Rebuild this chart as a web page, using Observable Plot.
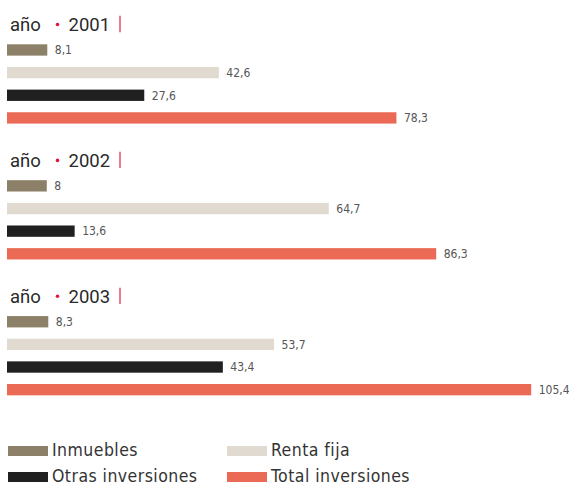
<!DOCTYPE html>
<html><head><meta charset="utf-8">
<script src="https://cdn.jsdelivr.net/npm/d3@7"></script>
<script src="https://cdn.jsdelivr.net/npm/@observablehq/plot@0.6"></script>
<style>
body{margin:0;background:#fff;}
#legend{display:grid;grid-template-columns:219px 220px;row-gap:8px;margin:30px 0 0 8px;font-family:"DejaVu Sans Condensed","Roboto Condensed","Roboto",sans-serif;font-size:17.5px;line-height:1;letter-spacing:0.45px;color:#333;font-weight:300;}
#legend .item{display:flex;align-items:center;height:18px;}
#legend .sw{width:40px;height:10px;margin-right:4px;display:inline-block;}
</style>
</head><body>
<div id="chart"></div>
<div id="legend"></div>
<script>
const years = ["2001", "2002", "2003"];
const categories = ["Inmuebles", "Renta fija", "Otras inversiones", "Total inversiones"];
const inmuebles = [8.1, 8, 8.3];
const rentaFija = [42.6, 64.7, 53.7];
const otras = [27.6, 13.6, 43.4];
const total = [78.3, 86.3, 105.4];
const colors = ["#8c8068", "#e1dad0", "#202020", "#eb6a55"];

const series = [inmuebles, rentaFija, otras, total];
const rows = [];
years.forEach((y, i) => {
  rows.push(`${y}|title`);
  categories.forEach(c => rows.push(`${y}|${c}`));
  if (i < years.length - 1) rows.push(`${y}|gap`);
});
const data = [];
years.forEach((y, i) => categories.forEach((c, j) => data.push({year: y, category: c, value: series[j][i], row: `${y}|${c}`})));
const titles = years.map(y => ({year: y, row: `${y}|title`}));
const fmt = v => String(v).replace(".", ",");
const labelFont = `"DejaVu Sans Condensed","Roboto Condensed",sans-serif`;

const chart = Plot.plot({
  width: 569,
  height: 412,
  marginLeft: 7,
  marginRight: 0,
  marginTop: 16,
  marginBottom: 11,
  x: {domain: [0, 113], axis: null},
  y: {domain: rows, axis: null, paddingInner: 0.5, paddingOuter: 0.25, round: false},
  color: {domain: categories, range: colors},
  style: {fontFamily: labelFont, background: "#fff"},
  marks: [
    Plot.barX(data, {x: "value", y: "row", fill: "category"}),
    Plot.text(data, {x: "value", y: "row", text: d => fmt(d.value), textAnchor: "start", dx: 7, fill: "#555", fontSize: 12}),
    Plot.text(titles, {y: "row", frameAnchor: "left", text: () => "año", textAnchor: "start", dx: 2.5, dy: -3, fontSize: 18.5, fontWeight: 400, fill: "#2a2a2a", fontFamily: "Roboto"}),
    Plot.dot(titles, {x: () => 0, y: "row", dx: 50, dy: -3.3, r: 1.8, fill: "#e3173e", stroke: null}),
    Plot.text(titles, {y: "row", frameAnchor: "left", text: "year", textAnchor: "start", dx: 61, dy: -3, fontSize: 18.5, fontWeight: 400, fill: "#2a2a2a", fontFamily: "Roboto"}),
    Plot.tickX(titles, {x: () => 0, y: "row", dx: 112.5, dy: -3.3, insetTop: -2.5, insetBottom: -2.5, stroke: "#e0506e", strokeWidth: 1.5})
  ]
});
document.getElementById("chart").append(chart);

const legend = document.getElementById("legend");
[0, 1, 2, 3].forEach(i => {
  const item = document.createElement("div");
  item.className = "item";
  const sw = document.createElement("span");
  sw.className = "sw";
  sw.style.background = colors[i];
  item.append(sw, document.createTextNode(categories[i]));
  legend.append(item);
});
</script>
</body></html>
